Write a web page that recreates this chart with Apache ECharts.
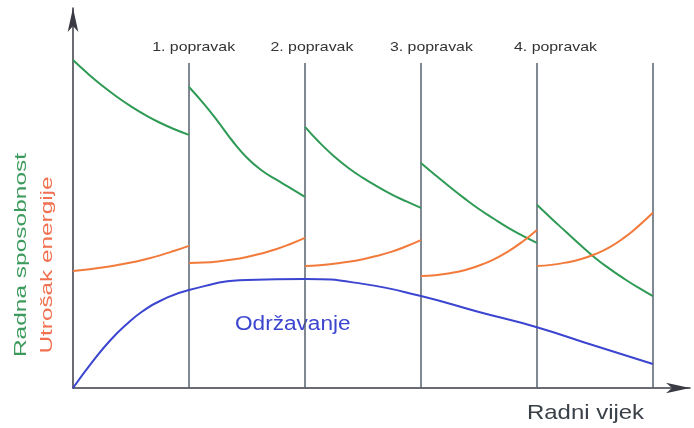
<!DOCTYPE html>
<html><head><meta charset="utf-8">
<script src="https://cdn.jsdelivr.net/npm/echarts@6/dist/echarts.min.js"></script>
<style>html,body{margin:0;padding:0;background:#fff}#c{width:694px;height:428px}</style>
</head><body><div id="c"></div>
<script>
// positions within each segment (fraction of segment)
const segFrac = [0, 0.125, 0.25, 0.375, 0.5, 0.625, 0.75, 0.875, 1];
// Radna sposobnost (green), one array per interval between repairs
const green1 = [86.3, 82.8, 79.6, 76.7, 74.1, 71.8, 69.8, 68.1, 66.6];
const green2 = [79.2, 74.9, 70.1, 65.0, 60.6, 57.3, 54.9, 52.6, 50.3];
const green3 = [68.7, 64.6, 61.0, 57.9, 55.3, 53.0, 50.9, 49.1, 47.4];
const green4 = [59.2, 56.0, 52.9, 49.9, 47.1, 44.6, 42.2, 40.1, 38.2];
const green5 = [48.2, 44.6, 41.1, 37.6, 34.3, 31.4, 28.8, 26.4, 24.2];
// Utrošak energije (orange)
const orange1 = [30.8, 31.2, 31.7, 32.3, 33.0, 33.9, 34.9, 36.1, 37.4];
const orange2 = [32.9, 33.0, 33.3, 33.8, 34.5, 35.4, 36.5, 37.9, 39.5];
const orange3 = [32.1, 32.3, 32.7, 33.2, 33.9, 34.8, 35.9, 37.3, 38.9];
const orange4 = [29.5, 29.7, 30.2, 31.0, 32.2, 33.8, 35.9, 38.5, 41.6];
const orange5 = [32.1, 32.4, 33.0, 33.9, 35.2, 37.0, 39.5, 42.6, 46.1];
// Održavanje (blue), continuous
const blueX = [0, 0.17, 0.32, 0.47, 0.6, 0.75, 1, 1.5, 2, 2.5, 3, 3.5, 4, 4.5, 5];
const blueY = [0, 7.0, 12.5, 17.0, 20.2, 22.9, 25.8, 28.4, 28.7, 27.4, 24.2, 20.0, 16.0, 11.1, 6.3];
// repairs
const repairX = [1, 2, 3, 4, 5];
const repairLabels = ['1. popravak', '2. popravak', '3. popravak', '4. popravak'];
const repairLabelX = [1.04, 2.06, 3.09, 4.16];
const repairLabelY = 89.5;
const lineTop = 85.5;

const greens = [green1, green2, green3, green4, green5];
const oranges = [orange1, orange2, orange3, orange4, orange5];
function seg(arr, k) { return arr.map((v, i) => [k + segFrac[i], v]); }

const FONT = 'Liberation Sans, Arial, sans-serif';
const series = [];
greens.forEach((g, k) => series.push({
  type: 'line', data: seg(g, k), smooth: true, symbol: 'none',
  lineStyle: { color: '#2f9a55', width: 2 }, z: 5
}));
oranges.forEach((o, k) => series.push({
  type: 'line', data: seg(o, k), smooth: true, symbol: 'none',
  lineStyle: { color: '#f27a3a', width: 2 }, z: 5
}));
series.push({
  type: 'line', data: blueX.map((x, i) => [x, blueY[i]]), smooth: true, symbol: 'none',
  lineStyle: { color: '#3b45d0', width: 2 }, z: 6,
  markLine: {
    silent: true, symbol: 'none', animation: false,
    lineStyle: { color: '#56606c', width: 1.5, type: 'solid' },
    label: { show: false },
    data: repairX.map(x => [{ coord: [x, 0] }, { coord: [x, lineTop] }])
  }
});

const chart = echarts.init(document.getElementById('c'));
chart.setOption({
  animation: false,
  grid: { left: 73, right: 4, top: 8, bottom: 40 },
  xAxis: {
    type: 'value', min: 0, max: 5.32,
    axisLine: { show: true, symbol: ['none', 'arrow'], symbolSize: [8, 24],
      lineStyle: { color: '#3a3a44', width: 1.5 } },
    axisTick: { show: false }, axisLabel: { show: false }, splitLine: { show: false }
  },
  yAxis: {
    type: 'value', min: 0, max: 100,
    axisLine: { show: true, symbol: ['none', 'arrow'], symbolSize: [8, 24],
      lineStyle: { color: '#3a3a44', width: 1.5 } },
    axisTick: { show: false }, axisLabel: { show: false }, splitLine: { show: false }
  },
  series: series
});

const labelGraphics = repairLabels.map((t, i) => {
  const p = chart.convertToPixel({ gridIndex: 0 }, [repairLabelX[i], repairLabelY]);
  return { type: 'text', x: p[0], y: p[1], scaleX: 1.22,
    style: { text: t, fill: '#333', font: '13px ' + FONT, align: 'center', verticalAlign: 'middle' } };
});
chart.setOption({
  graphic: labelGraphics.concat([
    { type: 'text', x: 235, y: 314, scaleX: 1.13, style: { text: 'Održavanje', fill: '#3b45d0',
      font: '20px ' + FONT, verticalAlign: 'top' } },
    { type: 'text', x: 527, y: 403, scaleX: 1.14, style: { text: 'Radni vijek', fill: '#3a4048',
      font: '21px ' + FONT, verticalAlign: 'top' } },
    { type: 'text', x: 21, y: 255, rotation: Math.PI / 2, scaleX: 1.44, style: { text: 'Radna sposobnost',
      fill: '#3c9a5c', font: '17px ' + FONT, align: 'center', verticalAlign: 'middle' } },
    { type: 'text', x: 47, y: 265, rotation: Math.PI / 2, scaleX: 1.43, style: { text: 'Utrošak energije',
      fill: '#f07050', font: '17px ' + FONT, align: 'center', verticalAlign: 'middle' } }
  ])
});
</script></body></html>
